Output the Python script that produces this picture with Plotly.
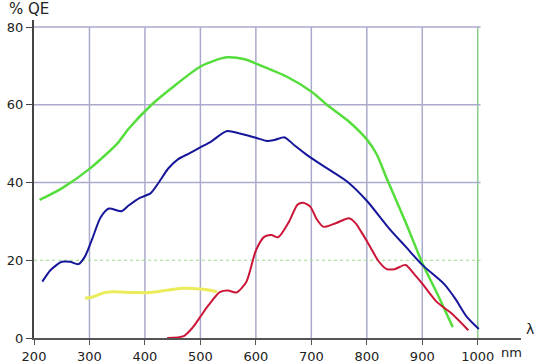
import plotly.graph_objects as go

# ---- data ----
x_ticks = [200, 300, 400, 500, 600, 700, 800, 900, 1000]
y_ticks = [0, 20, 40, 60, 80]

wl_green = [210, 250, 300, 350, 371, 412, 450, 501, 547, 580, 600, 656, 701, 728, 765, 801, 818, 836, 870, 900, 930, 955]
qe_green = [35.5, 38.5, 43.5, 50, 53.9, 60, 64.5, 69.9, 72.2, 71.7, 70.6, 67.2, 63.3, 60, 56, 50.9, 47.2, 41, 29.8, 19.3, 10.5, 2.8]

wl_blue = [215, 230, 250, 265, 280, 292, 305, 320, 335, 358, 370, 390, 410, 425, 442, 460, 480, 502, 520, 547, 571, 600, 620, 635, 652, 670, 690, 705, 730, 765, 800, 840, 870, 900, 940, 960, 980, 1002]
qe_blue = [14.5, 17.5, 19.6, 19.6, 19.0, 21, 25.5, 31, 33.3, 32.6, 34, 36, 37.2, 40, 43.6, 46, 47.5, 49.2, 50.6, 53.2, 52.6, 51.5, 50.7, 51, 51.6, 49.5, 47.3, 45.8, 43.5, 40.2, 35.3, 28.2, 23.5, 18.8, 13.8, 10, 5.5, 2.3]

wl_red = [440, 470, 485, 500, 515, 535, 550, 565, 583, 600, 615, 628, 640, 660, 675, 685, 698, 710, 722, 745, 768, 780, 790, 806, 820, 835, 850, 870, 885, 900, 926, 953, 983]
qe_red = [0, 0.5, 2.5, 5.5, 8.5, 11.8, 12.2, 11.7, 14.5, 22.5, 26, 26.5, 25.9, 30, 34.3, 34.8, 33.8, 30.5, 28.6, 29.6, 30.8, 29.5, 27.3, 23.5, 20, 17.8, 17.7, 18.8, 16.5, 14, 9.3, 6.3, 2]

wl_yellow = [292, 307, 325, 340, 380, 410, 445, 470, 500, 520, 530]
qe_yellow = [10.2, 10.6, 11.6, 11.9, 11.7, 11.7, 12.4, 12.8, 12.6, 12.2, 11.9]

FONT = "DejaVu Sans"
GRID = "#aaaacc"

fig = go.Figure()

def add(x, y, color, w):
    fig.add_trace(go.Scatter(x=x, y=y, mode="lines",
                             line=dict(color=color, width=w, shape="spline", smoothing=0.7),
                             hoverinfo="skip", showlegend=False))

add(wl_yellow, qe_yellow, "#ecec5a", 3)
add(wl_green, qe_green, "#55dd3c", 2.5)
add(wl_blue, qe_blue, "#16169a", 2)
add(wl_red, qe_red, "#cc1638", 2)

shapes = []
# vertical gridlines
for xv in x_ticks[1:]:
    color = "#88cc88" if xv == x_ticks[-1] else GRID
    shapes.append(dict(type="line", xref="x", yref="y", x0=xv, x1=xv,
                       y0=y_ticks[0], y1=y_ticks[-1], line=dict(color=color, width=1.5), layer="below"))
# horizontal gridlines
for yv in y_ticks[1:]:
    if yv == 20:
        line = dict(color="#99dd88", width=1.2, dash="dot")
    else:
        line = dict(color=GRID, width=1.5)
    shapes.append(dict(type="line", xref="x", yref="y", x0=x_ticks[0], x1=x_ticks[-1] + 5,
                       y0=yv, y1=yv, line=line, layer="below"))

fig.update_layout(
    width=538, height=363,
    margin=dict(l=34, r=17, t=20, b=25, autoexpand=False),
    paper_bgcolor="white", plot_bgcolor="white",
    font=dict(family=FONT, size=13, color="#222"),
    shapes=shapes,
    xaxis=dict(range=[200, 1078], tickvals=x_ticks, ticktext=[str(v) for v in x_ticks],
               automargin=False,
               showgrid=False, zeroline=False, showline=True, linecolor="#555", linewidth=2,
               ticks="outside", ticklen=5, tickcolor="#555", tickwidth=1),
    yaxis=dict(range=[0, 81.8], tickvals=y_ticks, ticktext=[str(v) for v in y_ticks],
               automargin=False,
               showgrid=False, zeroline=False, showline=True, linecolor="#444", linewidth=2,
               ticks="outside", ticklen=6, tickcolor="#444", tickwidth=1),
    annotations=[
        dict(text="% QE", xref="paper", yref="paper", x=-0.055, y=1.035,
             xanchor="left", yanchor="middle", showarrow=False, font=dict(size=15, family=FONT)),
        dict(text="λ", xref="paper", yref="paper", x=1.018, y=0.028,
             xanchor="center", yanchor="middle", showarrow=False, font=dict(size=14, family=FONT)),
        dict(text="nm", xref="paper", yref="paper", x=0.981, y=-0.047,
             xanchor="center", yanchor="middle", showarrow=False, font=dict(size=13, family=FONT)),
    ],
)

fig.write_html("out.html", config={"displayModeBar": False},
               post_script="document.body.style.margin='0px';document.body.style.overflow='hidden';")
